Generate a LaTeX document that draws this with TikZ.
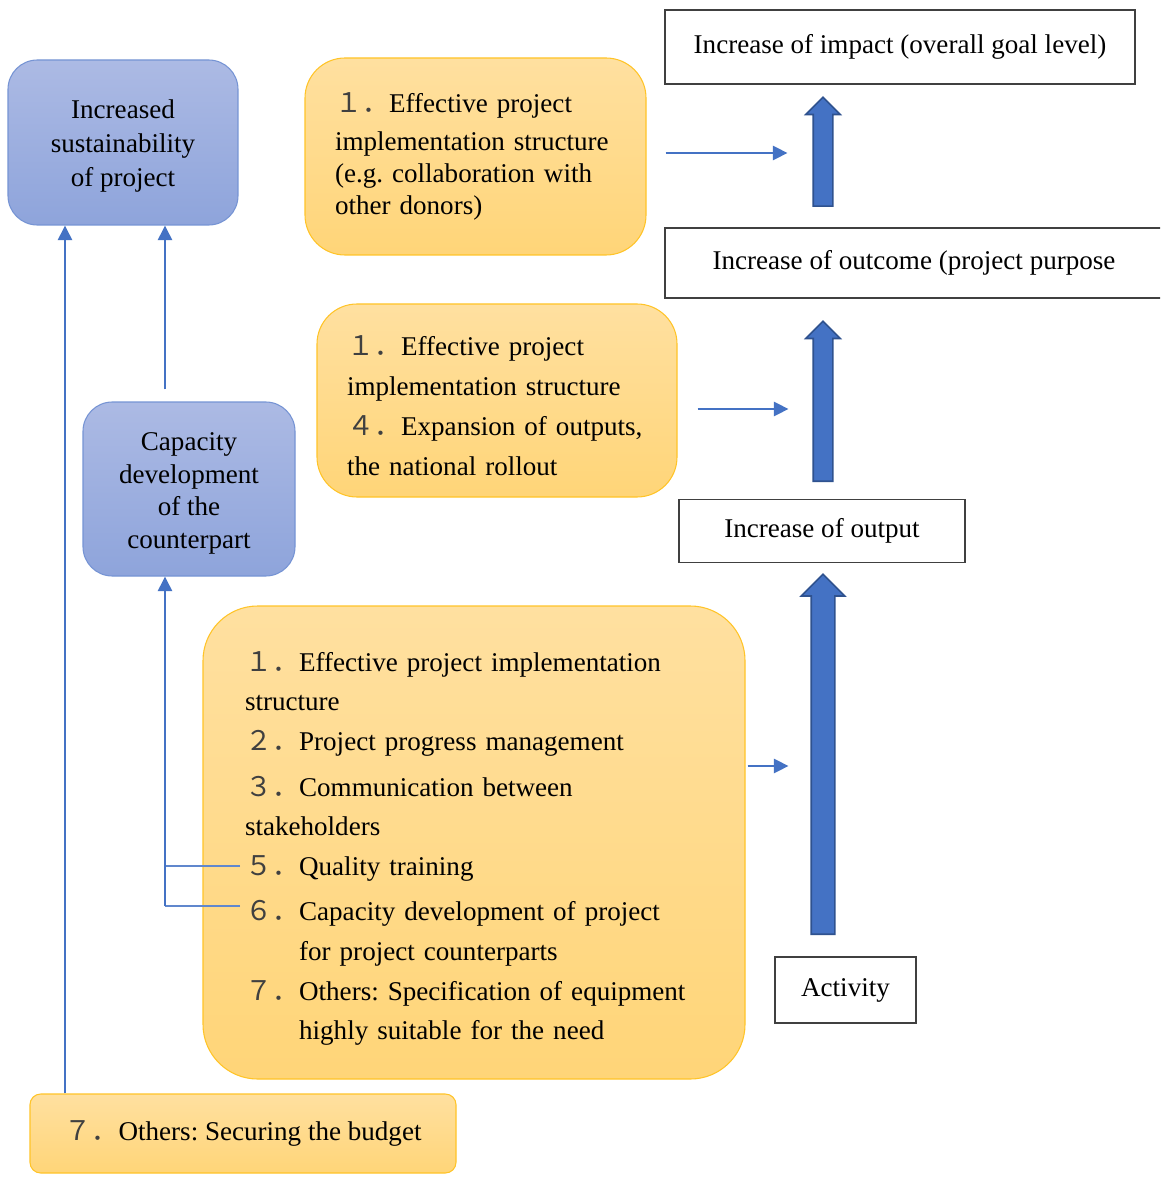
\documentclass[tikz,border=0pt]{standalone}
\usepackage{fontspec}
\setmainfont{Liberation Serif}
\newfontfamily\cjk{Noto Sans CJK SC}
\usepackage{tikz}
\usetikzlibrary{arrows.meta,positioning,calc,shapes.arrows}
\definecolor{bluetop}{RGB}{172,186,228}
\definecolor{bluebot}{RGB}{142,164,219}
\definecolor{blueedge}{RGB}{118,148,212}
\definecolor{orangetop}{RGB}{255,224,160}
\definecolor{orangebot}{RGB}{255,213,120}
\definecolor{goldedge}{RGB}{255,196,40}
\definecolor{arrowblue}{RGB}{68,114,196}
\definecolor{arrowedge}{RGB}{47,82,143}
\definecolor{framegray}{RGB}{64,64,64}
\newcommand{\nr}[1]{{\cjk\color{black!75}#1}}
\frenchspacing

\begin{document}
\begin{tikzpicture}[x=0.75pt, y=-0.75pt,
  every node/.style={font=\fontsize{20.3}{24.5}\selectfont},
  goal/.style={draw=framegray, line width=1pt, fill=white, inner sep=0pt},
  bluebox/.style={draw=blueedge, line width=0.8pt, top color=bluetop, bottom color=bluebot, rounded corners=22pt, align=center, inner sep=0pt},
  orangebox/.style={draw=goldedge, line width=0.8pt, top color=orangetop, bottom color=orangebot, align=left, inner ysep=0pt},
  uparrow/.style={single arrow, rotate=90, anchor=tail, draw=arrowedge, fill=arrowblue, line width=1.2pt, inner xsep=0pt},
  link/.style={draw=arrowblue, line width=2.1pt, -{Triangle[length=11pt,width=10.5pt]}},
  tick/.style={draw=arrowblue!85!white, line width=0.8pt}]
\useasboundingbox (0,0) rectangle (1160,1180);
\fill[white] (0,0) rectangle (1160,1180);
\clip (0,0) rectangle (1160,1180);

% levels on the right
\node[goal, minimum width=352.5pt, minimum height=55.5pt] (imp) at (900,47) {Increase of impact (overall goal level)};
\node[goal, minimum width=373.5pt, minimum height=52.5pt] (outc) at (914,263) {Increase of outcome (project purpose};
\node[goal, minimum width=214.5pt, minimum height=47.25pt] (outp) at (822,531) {Increase of output};
\node[goal, minimum width=105.75pt, minimum height=49.5pt] (act) at (845.5,990) {Activity};

\foreach \n/\y/\len/\sh/\hd in {up1/207/81.75/6.75/5.6, up2/482/120/6.75/5.6, up3/935/270/8.25/7.5}
  \node[uparrow, minimum height=\len pt, inner ysep=\sh pt, single arrow head extend=\hd pt] (\n) at (823,\y) {};

% factors
\node[bluebox, minimum width=172.5pt, minimum height=123.75pt, font=\fontsize{20.3}{25.5}\selectfont] (sus) at (123,142.5) {\rule{0pt}{20pt}Increased\\sustainability\\of project};
\node[bluebox, minimum width=159pt, minimum height=130.5pt] (cap) at (189,489) {\rule{0pt}{20pt}Capacity\\development\\of the\\counterpart};

\node[orangebox, rounded corners=30pt, font=\fontsize{20.3}{24}\selectfont, text width=210.75pt, inner xsep=22.5pt, minimum height=147.75pt] (or1) at (475.5,156.5)
  {\nr{１．}Effective project\\[5pt]implementation structure\\(e.g. collaboration with\\other donors)};
\node[orangebox, rounded corners=30pt, font=\fontsize{20.3}{30}\selectfont, text width=225pt, inner xsep=22.5pt, minimum height=144.75pt] (or2) at (497,400.5)
  {\rule{0pt}{22pt}\nr{１．}Effective project\\implementation structure\\\nr{４．}Expansion of outputs,\\the national rollout};
\node[orangebox, rounded corners=41pt, font=\fontsize{20.3}{29.7}\selectfont, text width=343.5pt, inner xsep=31.5pt, minimum height=354.75pt] (big) at (474,842.5)
  {\rule{0pt}{24pt}\nr{１．}Effective project implementation\\structure\\
   \nr{２．}Project progress management\\[4.5pt]
   \nr{３．}Communication between\\stakeholders\\
   \nr{５．}Quality training\\[4.5pt]
   \nr{６．}Capacity development of project\\\phantom{\nr{６．}}for project counterparts\\
   \nr{７．}Others: Specification of equipment\\\phantom{\nr{７．}}highly suitable for the need};
\node[orangebox, rounded corners=8pt, align=center, minimum width=319.5pt, minimum height=59.25pt] (bud) at (243,1133.5) {\nr{７．}Others: Securing the budget};

% connectors
\draw[link] ($(or1.east)+(19,-3.5)$) -- ++(122,0);
\draw[link] ($(or2.east)+(20,8.5)$) -- ++(91,0);
\draw[link] ($(big.east)+(2,-76.5)$) -- ++(41,0);

\draw[link] (bud.north -| 65,0) -- (sus.south -| 65,0);
\draw[link] ($(cap.north -| 165,0)+(0,-12)$) -- (sus.south -| 165,0);
\coordinate (q5) at (240,866);
\coordinate (q6) at (240,906);
\draw[tick] (q5) -- ++(-75,0);
\draw[tick] (q6) -- ++(-75,0) coordinate (k6);
\draw[link] (k6) -- (cap.south -| k6);
\end{tikzpicture}
\end{document}
